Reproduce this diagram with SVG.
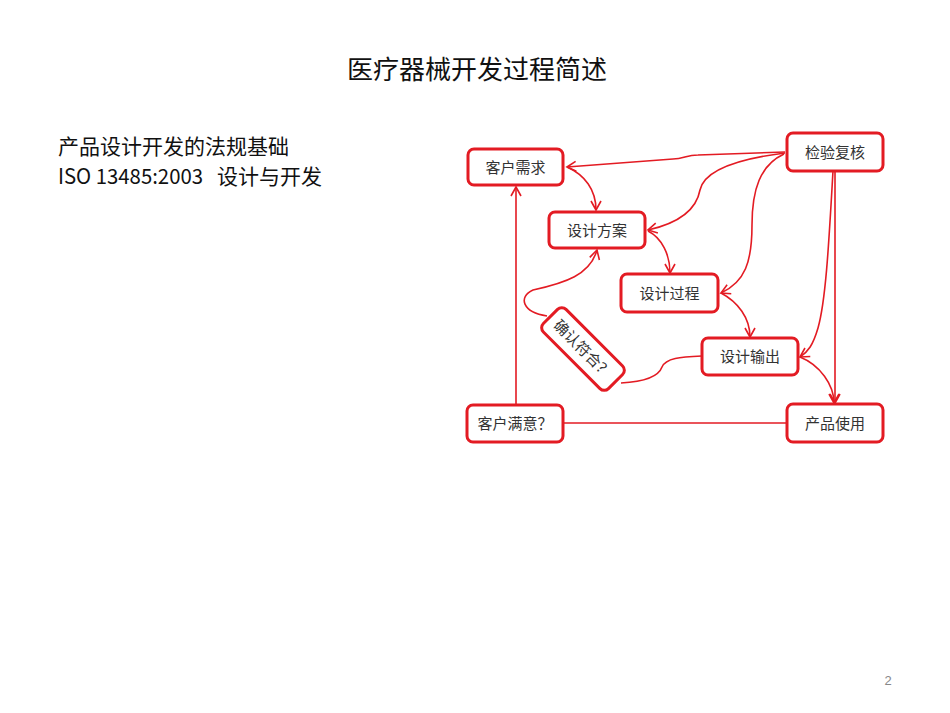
<svg xmlns="http://www.w3.org/2000/svg" width="950" height="713" viewBox="0 0 950 713">
<style>
.box{fill:#fff;stroke:#e31b23;stroke-width:3}
.lbl{font-family:"Noto Sans CJK SC","Noto Sans",sans-serif;font-size:15px;fill:#333;text-anchor:middle}
.con{fill:none;stroke:#e31b23;stroke-width:1.6}
.head{font-family:"Noto Sans CJK SC","Noto Sans",sans-serif;fill:#111}
</style>
<defs>
<marker id="arr" markerWidth="12" markerHeight="12" refX="10" refY="6" orient="auto" markerUnits="userSpaceOnUse">
<path d="M1,1 L10,6 L1,11" fill="none" stroke="#e31b23" stroke-width="1.6"/>
</marker>
</defs>
<rect width="950" height="713" fill="#fff"/>
<text class="head" x="477" y="79" font-size="26" text-anchor="middle">医疗器械开发过程简述</text>
<text class="head" x="58" y="154" font-size="21">产品设计开发的法规基础</text>
<text class="head" x="58" y="184" font-size="21"><tspan textLength="145" lengthAdjust="spacingAndGlyphs">ISO 13485:2003</tspan><tspan x="217">设计与开发</tspan></text>
<text x="888" y="685" font-family="Liberation Sans, sans-serif" font-size="13" fill="#888" text-anchor="middle">2</text>
<g id="connectors">
<path class="con" marker-end="url(#arr)" d="M785,152 L698,155 C686,155 684,159 673,159 L567,167"/>
<path class="con" marker-end="url(#arr)" d="M785,153 C745,158 705,168 700,190 C696,212 675,224 648,230"/>
<path class="con" marker-end="url(#arr)" d="M784,154 C760,165 752,190 752,225 C752,262 745,282 721,293"/>
<path class="con" marker-end="url(#arr)" d="M833,171 C829,240 826,300 818,328 C813,345 808,352 800,357"/>
<path class="con" marker-end="url(#arr)" d="M835,171 L835,403"/>
<path class="con" marker-end="url(#arr)" d="M567,167 C585,175 596,190 596,210"/>
<path class="con" marker-end="url(#arr)" d="M648,231 C662,238 670,255 670,273"/>
<path class="con" marker-end="url(#arr)" d="M721,293 C738,302 750,318 750,337"/>
<path class="con" marker-end="url(#arr)" d="M800,357 C820,365 834,385 834,403"/>
<path class="con" d="M787,423 L564,423"/>
<path class="con" marker-end="url(#arr)" d="M516,404 L516,187"/>
<path class="con" marker-end="url(#arr)" d="M547,316 C522,312 518,297 533,290 C565,283 590,275 597,250"/>
<path class="con" d="M702,356 C680,357 666,358 662,367 C658,378 640,382 621,383"/>
</g>
<g id="n1"><rect class="box" x="468" y="149" width="95" height="36" rx="6"/><text class="lbl" x="515.5" y="172.5">客户需求</text></g>
<g id="n2"><rect class="box" x="787" y="133" width="96" height="38" rx="6"/><text class="lbl" x="835" y="157.5">检验复核</text></g>
<g id="n3"><rect class="box" x="549" y="212" width="96" height="36" rx="6"/><text class="lbl" x="597" y="235.5">设计方案</text></g>
<g id="n4"><rect class="box" x="621" y="274" width="97" height="38" rx="6"/><text class="lbl" x="669.5" y="298.5">设计过程</text></g>
<g id="n5"><rect class="box" x="702" y="338" width="96" height="37" rx="6"/><text class="lbl" x="750" y="362">设计输出</text></g>
<g id="n6"><rect class="box" x="467" y="405" width="96" height="37" rx="6"/><text class="lbl" x="515" y="429">客户满意？</text></g>
<g id="n7"><rect class="box" x="787" y="404" width="96" height="38" rx="6"/><text class="lbl" x="835" y="428.5">产品使用</text></g>
<g id="n8" transform="translate(583,349) rotate(45)"><rect class="box" x="-46" y="-16" width="92" height="32" rx="6"/><text class="lbl" x="0" y="5.5">确认符合？</text></g>
</svg>
